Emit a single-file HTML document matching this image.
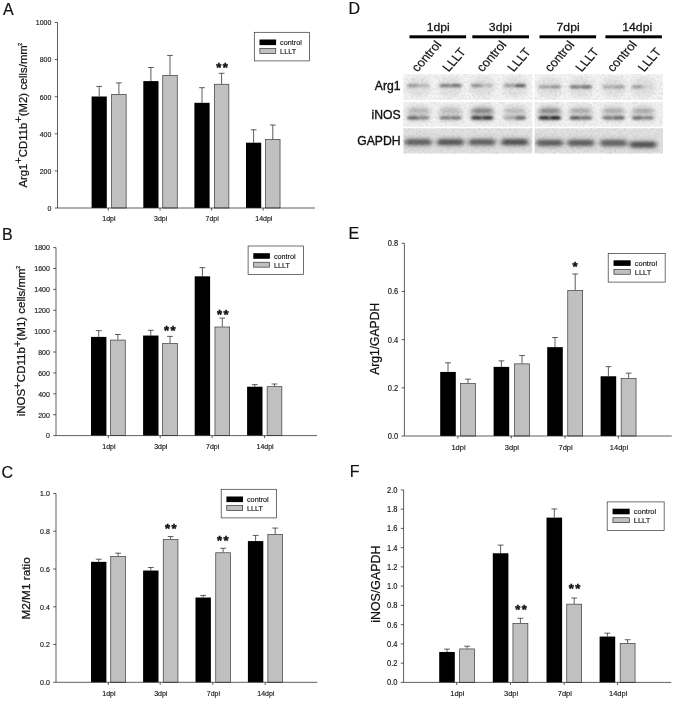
<!DOCTYPE html>
<html lang="en">
<head>
<meta charset="utf-8">
<title>Figure</title>
<style>
html,body{margin:0;padding:0;background:#fff;}
body{width:675px;height:701px;overflow:hidden;}
text.s{stroke:#222;stroke-width:0.14px;}
svg{display:block;font-family:'Liberation Sans', Arial, Helvetica, sans-serif;fill:#111;}
</style>
</head>
<body>
<svg width="675" height="701" viewBox="0 0 675 701">
<rect width="675" height="701" fill="#fff"/>
<g id="panelA">
<path d="M99.2 96.5V86.4M96.3 86.4H102.1" stroke="#2a2a2a" stroke-width="0.75" fill="none"/>
<rect x="91.6" y="96.5" width="15.2" height="111.5" fill="#000"/>
<path d="M118.9 94V82.9M116 82.9H121.8" stroke="#2a2a2a" stroke-width="0.75" fill="none"/>
<rect x="111.65" y="94.35" width="14.5" height="113.65" fill="#c0c0c0" stroke="#3a3a3a" stroke-width="0.7"/>
<path d="M150.9 81.1V67.5M148 67.5H153.8" stroke="#2a2a2a" stroke-width="0.75" fill="none"/>
<rect x="143.3" y="81.1" width="15.2" height="126.9" fill="#000"/>
<path d="M170 75V55.4M167.1 55.4H172.9" stroke="#2a2a2a" stroke-width="0.75" fill="none"/>
<rect x="162.75" y="75.35" width="14.5" height="132.65" fill="#c0c0c0" stroke="#3a3a3a" stroke-width="0.7"/>
<path d="M202 102.8V87.7M199.1 87.7H204.9" stroke="#2a2a2a" stroke-width="0.75" fill="none"/>
<rect x="194.4" y="102.8" width="15.2" height="105.2" fill="#000"/>
<path d="M221.6 83.9V73.3M218.7 73.3H224.5" stroke="#2a2a2a" stroke-width="0.75" fill="none"/>
<rect x="214.35" y="84.25" width="14.5" height="123.75" fill="#c0c0c0" stroke="#3a3a3a" stroke-width="0.7"/>
<path d="M253.6 142.7V129.8M250.7 129.8H256.5" stroke="#2a2a2a" stroke-width="0.75" fill="none"/>
<rect x="246" y="142.7" width="15.2" height="65.3" fill="#000"/>
<path d="M272.8 139.1V125M269.9 125H275.7" stroke="#2a2a2a" stroke-width="0.75" fill="none"/>
<rect x="265.55" y="139.45" width="14.5" height="68.55" fill="#c0c0c0" stroke="#3a3a3a" stroke-width="0.7"/>
<path d="M57.5 22.5V208H315" stroke="#2a2a2a" stroke-width="0.75" fill="none"/>
<path d="M54.7 208H57.5" stroke="#2a2a2a" stroke-width="0.75"/>
<text transform="translate(51.3 208.1) scale(1 1.12)" y="2.44" text-anchor="end" class="s" font-size="7.0">0</text>
<path d="M54.7 170.9H57.5" stroke="#2a2a2a" stroke-width="0.75"/>
<text transform="translate(51.3 171) scale(1 1.12)" y="2.44" text-anchor="end" class="s" font-size="7.0">200</text>
<path d="M54.7 133.8H57.5" stroke="#2a2a2a" stroke-width="0.75"/>
<text transform="translate(51.3 133.9) scale(1 1.12)" y="2.44" text-anchor="end" class="s" font-size="7.0">400</text>
<path d="M54.7 96.7H57.5" stroke="#2a2a2a" stroke-width="0.75"/>
<text transform="translate(51.3 96.8) scale(1 1.12)" y="2.44" text-anchor="end" class="s" font-size="7.0">600</text>
<path d="M54.7 59.6H57.5" stroke="#2a2a2a" stroke-width="0.75"/>
<text transform="translate(51.3 59.7) scale(1 1.12)" y="2.44" text-anchor="end" class="s" font-size="7.0">800</text>
<path d="M54.7 22.5H57.5" stroke="#2a2a2a" stroke-width="0.75"/>
<text transform="translate(51.3 22.6) scale(1 1.12)" y="2.44" text-anchor="end" class="s" font-size="7.0">1000</text>
<path d="M108.3 208V210.6" stroke="#2a2a2a" stroke-width="0.75"/>
<text transform="translate(108.9 221.1) scale(1 1.12)" text-anchor="middle" class="s" font-size="7.0">1dpi</text>
<path d="M160 208V210.6" stroke="#2a2a2a" stroke-width="0.75"/>
<text transform="translate(160.6 221.1) scale(1 1.12)" text-anchor="middle" class="s" font-size="7.0">3dpi</text>
<path d="M211.6 208V210.6" stroke="#2a2a2a" stroke-width="0.75"/>
<text transform="translate(212.2 221.1) scale(1 1.12)" text-anchor="middle" class="s" font-size="7.0">7dpi</text>
<path d="M263.2 208V210.6" stroke="#2a2a2a" stroke-width="0.75"/>
<text transform="translate(263.8 221.1) scale(1 1.12)" text-anchor="middle" class="s" font-size="7.0">14dpi</text>
<rect x="254.3" y="32.3" width="55.3" height="28.6" fill="#fff" stroke="#333" stroke-width="0.7"/>
<rect x="259.5" y="39.5" width="16.6" height="5.6" fill="#000"/>
<rect x="259.85" y="48.55" width="15.9" height="4.9" fill="#c0c0c0" stroke="#333" stroke-width="0.7"/>
<text transform="translate(280.1 45.2) scale(1 1.12)" class="s" font-size="7.25">control</text>
<text transform="translate(280.1 53.9) scale(1 1.12)" class="s" font-size="7.25">LLLT</text>
<text x="216.22" y="72.23" font-size="13.0" font-weight="bold" stroke="#111" stroke-width="0.45" letter-spacing="1.44">**</text>
<text transform="translate(26.8 115.3) rotate(-90)" text-anchor="middle" font-size="11.3" stroke="#111" stroke-width="0.22">Arg1<tspan dy="-4.4">+</tspan><tspan dy="4.4">CD11b</tspan><tspan dy="-4.4">+</tspan><tspan dy="4.4">(M2) cells/mm</tspan><tspan dy="-5.2" dx="-0.5" font-size="5">2</tspan></text>
<text x="3" y="15" font-size="16" stroke="#111" stroke-width="0.2">A</text>
</g>
<g id="panelB">
<path d="M98.7 336.9V330.63M95.8 330.63H101.6" stroke="#2a2a2a" stroke-width="0.75" fill="none"/>
<rect x="91" y="336.9" width="15.4" height="98.7" fill="#000"/>
<path d="M117.9 339.72V334.5M115 334.5H120.8" stroke="#2a2a2a" stroke-width="0.75" fill="none"/>
<rect x="110.55" y="340.07" width="14.7" height="95.53" fill="#c0c0c0" stroke="#3a3a3a" stroke-width="0.7"/>
<path d="M150.8 335.54V330.32M147.9 330.32H153.7" stroke="#2a2a2a" stroke-width="0.75" fill="none"/>
<rect x="143.1" y="335.54" width="15.4" height="100.06" fill="#000"/>
<path d="M170 343.17V336.38M167.1 336.38H172.9" stroke="#2a2a2a" stroke-width="0.75" fill="none"/>
<rect x="162.65" y="343.52" width="14.7" height="92.08" fill="#c0c0c0" stroke="#3a3a3a" stroke-width="0.7"/>
<path d="M202.4 276.32V267.65M199.5 267.65H205.3" stroke="#2a2a2a" stroke-width="0.75" fill="none"/>
<rect x="194.7" y="276.32" width="15.4" height="159.28" fill="#000"/>
<path d="M222.3 326.66V318.1M219.4 318.1H225.2" stroke="#2a2a2a" stroke-width="0.75" fill="none"/>
<rect x="214.95" y="327.01" width="14.7" height="108.59" fill="#c0c0c0" stroke="#3a3a3a" stroke-width="0.7"/>
<path d="M254.8 386.72V384.63M251.9 384.63H257.7" stroke="#2a2a2a" stroke-width="0.75" fill="none"/>
<rect x="247.1" y="386.72" width="15.4" height="48.88" fill="#000"/>
<path d="M274.5 386.3V384M271.6 384H277.4" stroke="#2a2a2a" stroke-width="0.75" fill="none"/>
<rect x="267.15" y="386.65" width="14.7" height="48.95" fill="#c0c0c0" stroke="#3a3a3a" stroke-width="0.7"/>
<path d="M56 247.6V435.6H317" stroke="#2a2a2a" stroke-width="0.75" fill="none"/>
<path d="M53.2 435.6H56" stroke="#2a2a2a" stroke-width="0.75"/>
<text transform="translate(49.8 435.7) scale(1 1.12)" y="2.44" text-anchor="end" class="s" font-size="7.0">0</text>
<path d="M53.2 414.71H56" stroke="#2a2a2a" stroke-width="0.75"/>
<text transform="translate(49.8 414.81) scale(1 1.12)" y="2.44" text-anchor="end" class="s" font-size="7.0">200</text>
<path d="M53.2 393.82H56" stroke="#2a2a2a" stroke-width="0.75"/>
<text transform="translate(49.8 393.92) scale(1 1.12)" y="2.44" text-anchor="end" class="s" font-size="7.0">400</text>
<path d="M53.2 372.93H56" stroke="#2a2a2a" stroke-width="0.75"/>
<text transform="translate(49.8 373.03) scale(1 1.12)" y="2.44" text-anchor="end" class="s" font-size="7.0">600</text>
<path d="M53.2 352.04H56" stroke="#2a2a2a" stroke-width="0.75"/>
<text transform="translate(49.8 352.14) scale(1 1.12)" y="2.44" text-anchor="end" class="s" font-size="7.0">800</text>
<path d="M53.2 331.16H56" stroke="#2a2a2a" stroke-width="0.75"/>
<text transform="translate(49.8 331.26) scale(1 1.12)" y="2.44" text-anchor="end" class="s" font-size="7.0">1000</text>
<path d="M53.2 310.27H56" stroke="#2a2a2a" stroke-width="0.75"/>
<text transform="translate(49.8 310.37) scale(1 1.12)" y="2.44" text-anchor="end" class="s" font-size="7.0">1200</text>
<path d="M53.2 289.38H56" stroke="#2a2a2a" stroke-width="0.75"/>
<text transform="translate(49.8 289.48) scale(1 1.12)" y="2.44" text-anchor="end" class="s" font-size="7.0">1400</text>
<path d="M53.2 268.49H56" stroke="#2a2a2a" stroke-width="0.75"/>
<text transform="translate(49.8 268.59) scale(1 1.12)" y="2.44" text-anchor="end" class="s" font-size="7.0">1600</text>
<path d="M53.2 247.6H56" stroke="#2a2a2a" stroke-width="0.75"/>
<text transform="translate(49.8 247.7) scale(1 1.12)" y="2.44" text-anchor="end" class="s" font-size="7.0">1800</text>
<path d="M108.3 435.6V438.2" stroke="#2a2a2a" stroke-width="0.75"/>
<text transform="translate(108.9 449.2) scale(1 1.12)" text-anchor="middle" class="s" font-size="7.0">1dpi</text>
<path d="M160.2 435.6V438.2" stroke="#2a2a2a" stroke-width="0.75"/>
<text transform="translate(160.8 449.2) scale(1 1.12)" text-anchor="middle" class="s" font-size="7.0">3dpi</text>
<path d="M212.1 435.6V438.2" stroke="#2a2a2a" stroke-width="0.75"/>
<text transform="translate(212.7 449.2) scale(1 1.12)" text-anchor="middle" class="s" font-size="7.0">7dpi</text>
<path d="M264.5 435.6V438.2" stroke="#2a2a2a" stroke-width="0.75"/>
<text transform="translate(265.1 449.2) scale(1 1.12)" text-anchor="middle" class="s" font-size="7.0">14dpi</text>
<rect x="248.1" y="246" width="55.3" height="28.6" fill="#fff" stroke="#333" stroke-width="0.7"/>
<rect x="253.3" y="253.2" width="16.6" height="5.6" fill="#000"/>
<rect x="253.65" y="262.25" width="15.9" height="4.9" fill="#c0c0c0" stroke="#333" stroke-width="0.7"/>
<text transform="translate(273.9 258.9) scale(1 1.12)" class="s" font-size="7.25">control</text>
<text transform="translate(273.9 267.6) scale(1 1.12)" class="s" font-size="7.25">LLLT</text>
<text x="164.02" y="334.93" font-size="13.0" font-weight="bold" stroke="#111" stroke-width="0.45" letter-spacing="1.44">**</text>
<text x="217.12" y="318.63" font-size="13.0" font-weight="bold" stroke="#111" stroke-width="0.45" letter-spacing="1.44">**</text>
<text transform="translate(25.1 341.2) rotate(-90)" text-anchor="middle" font-size="11.5" stroke="#111" stroke-width="0.22">iNOS<tspan dy="-4.4">+</tspan><tspan dy="4.4">CD11b</tspan><tspan dy="-4.4">+</tspan><tspan dy="4.4">(M1) cells/mm</tspan><tspan dy="-5.2" dx="-0.5" font-size="5">2</tspan></text>
<text x="2" y="240.1" font-size="16" stroke="#111" stroke-width="0.2">B</text>
</g>
<g id="panelC">
<path d="M98.7 561.85V559.2M95.8 559.2H101.6" stroke="#2a2a2a" stroke-width="0.75" fill="none"/>
<rect x="91" y="561.85" width="15.4" height="120.45" fill="#000"/>
<path d="M118.1 556.18V553.16M115.2 553.16H121" stroke="#2a2a2a" stroke-width="0.75" fill="none"/>
<rect x="110.75" y="556.53" width="14.7" height="125.77" fill="#c0c0c0" stroke="#3a3a3a" stroke-width="0.7"/>
<path d="M150.8 570.53V567.51M147.9 567.51H153.7" stroke="#2a2a2a" stroke-width="0.75" fill="none"/>
<rect x="143.1" y="570.53" width="15.4" height="111.77" fill="#000"/>
<path d="M170.6 539.19V536.55M167.7 536.55H173.5" stroke="#2a2a2a" stroke-width="0.75" fill="none"/>
<rect x="163.25" y="539.54" width="14.7" height="142.76" fill="#c0c0c0" stroke="#3a3a3a" stroke-width="0.7"/>
<path d="M203.2 597.53V595.45M200.3 595.45H206.1" stroke="#2a2a2a" stroke-width="0.75" fill="none"/>
<rect x="195.5" y="597.53" width="15.4" height="84.77" fill="#000"/>
<path d="M223.1 552.41V548.25M220.2 548.25H226" stroke="#2a2a2a" stroke-width="0.75" fill="none"/>
<rect x="215.75" y="552.76" width="14.7" height="129.54" fill="#c0c0c0" stroke="#3a3a3a" stroke-width="0.7"/>
<path d="M255.6 541.08V535.41M252.7 535.41H258.5" stroke="#2a2a2a" stroke-width="0.75" fill="none"/>
<rect x="247.9" y="541.08" width="15.4" height="141.22" fill="#000"/>
<path d="M275.2 534.09V528.05M272.3 528.05H278.1" stroke="#2a2a2a" stroke-width="0.75" fill="none"/>
<rect x="267.85" y="534.44" width="14.7" height="147.86" fill="#c0c0c0" stroke="#3a3a3a" stroke-width="0.7"/>
<path d="M56 493.5V682.3H317.4" stroke="#2a2a2a" stroke-width="0.75" fill="none"/>
<path d="M53.2 682.3H56" stroke="#2a2a2a" stroke-width="0.75"/>
<text transform="translate(49.8 682.4) scale(1 1.12)" y="2.44" text-anchor="end" class="s" font-size="7.0">0.0</text>
<path d="M53.2 644.54H56" stroke="#2a2a2a" stroke-width="0.75"/>
<text transform="translate(49.8 644.64) scale(1 1.12)" y="2.44" text-anchor="end" class="s" font-size="7.0">0.2</text>
<path d="M53.2 606.78H56" stroke="#2a2a2a" stroke-width="0.75"/>
<text transform="translate(49.8 606.88) scale(1 1.12)" y="2.44" text-anchor="end" class="s" font-size="7.0">0.4</text>
<path d="M53.2 569.02H56" stroke="#2a2a2a" stroke-width="0.75"/>
<text transform="translate(49.8 569.12) scale(1 1.12)" y="2.44" text-anchor="end" class="s" font-size="7.0">0.6</text>
<path d="M53.2 531.26H56" stroke="#2a2a2a" stroke-width="0.75"/>
<text transform="translate(49.8 531.36) scale(1 1.12)" y="2.44" text-anchor="end" class="s" font-size="7.0">0.8</text>
<path d="M53.2 493.5H56" stroke="#2a2a2a" stroke-width="0.75"/>
<text transform="translate(49.8 493.6) scale(1 1.12)" y="2.44" text-anchor="end" class="s" font-size="7.0">1.0</text>
<path d="M108.3 682.3V684.9" stroke="#2a2a2a" stroke-width="0.75"/>
<text transform="translate(108.9 695.9) scale(1 1.12)" text-anchor="middle" class="s" font-size="7.0">1dpi</text>
<path d="M160.2 682.3V684.9" stroke="#2a2a2a" stroke-width="0.75"/>
<text transform="translate(160.8 695.9) scale(1 1.12)" text-anchor="middle" class="s" font-size="7.0">3dpi</text>
<path d="M212.8 682.3V684.9" stroke="#2a2a2a" stroke-width="0.75"/>
<text transform="translate(213.4 695.9) scale(1 1.12)" text-anchor="middle" class="s" font-size="7.0">7dpi</text>
<path d="M265.2 682.3V684.9" stroke="#2a2a2a" stroke-width="0.75"/>
<text transform="translate(265.8 695.9) scale(1 1.12)" text-anchor="middle" class="s" font-size="7.0">14dpi</text>
<rect x="221.2" y="489.3" width="55.3" height="28.6" fill="#fff" stroke="#333" stroke-width="0.7"/>
<rect x="226.4" y="496.5" width="16.6" height="5.6" fill="#000"/>
<rect x="226.75" y="505.55" width="15.9" height="4.9" fill="#c0c0c0" stroke="#333" stroke-width="0.7"/>
<text transform="translate(247 502.2) scale(1 1.12)" class="s" font-size="7.25">control</text>
<text transform="translate(247 510.9) scale(1 1.12)" class="s" font-size="7.25">LLLT</text>
<text x="165.02" y="532.83" font-size="13.0" font-weight="bold" stroke="#111" stroke-width="0.45" letter-spacing="1.44">**</text>
<text x="217.12" y="545.43" font-size="13.0" font-weight="bold" stroke="#111" stroke-width="0.45" letter-spacing="1.44">**</text>
<text transform="translate(30.3 588.45) rotate(-90)" text-anchor="middle" font-size="11.8" stroke="#111" stroke-width="0.22">M2/M1 ratio</text>
<text x="1.4" y="477.5" font-size="16" stroke="#111" stroke-width="0.2">C</text>
</g>
<g id="panelE">
<path d="M448 371.93V362.79M445.1 362.79H450.9" stroke="#2a2a2a" stroke-width="0.75" fill="none"/>
<rect x="440.2" y="371.93" width="15.6" height="64.07" fill="#000"/>
<path d="M468 383.24V379.15M465.1 379.15H470.9" stroke="#2a2a2a" stroke-width="0.75" fill="none"/>
<rect x="460.55" y="383.59" width="14.9" height="52.41" fill="#c0c0c0" stroke="#3a3a3a" stroke-width="0.7"/>
<path d="M501.4 366.88V360.87M498.5 360.87H504.3" stroke="#2a2a2a" stroke-width="0.75" fill="none"/>
<rect x="493.6" y="366.88" width="15.6" height="69.12" fill="#000"/>
<path d="M522 363.51V355.57M519.1 355.57H524.9" stroke="#2a2a2a" stroke-width="0.75" fill="none"/>
<rect x="514.55" y="363.86" width="14.9" height="72.14" fill="#c0c0c0" stroke="#3a3a3a" stroke-width="0.7"/>
<path d="M555 347.15V337.52M552.1 337.52H557.9" stroke="#2a2a2a" stroke-width="0.75" fill="none"/>
<rect x="547.2" y="347.15" width="15.6" height="88.85" fill="#000"/>
<path d="M575.2 290.12V274M572.3 274H578.1" stroke="#2a2a2a" stroke-width="0.75" fill="none"/>
<rect x="567.75" y="290.47" width="14.9" height="145.53" fill="#c0c0c0" stroke="#3a3a3a" stroke-width="0.7"/>
<path d="M608.4 376.27V366.64M605.5 366.64H611.3" stroke="#2a2a2a" stroke-width="0.75" fill="none"/>
<rect x="600.6" y="376.27" width="15.6" height="59.73" fill="#000"/>
<path d="M628.6 378.19V373.14M625.7 373.14H631.5" stroke="#2a2a2a" stroke-width="0.75" fill="none"/>
<rect x="621.15" y="378.54" width="14.9" height="57.46" fill="#c0c0c0" stroke="#3a3a3a" stroke-width="0.7"/>
<path d="M404.4 243.3V436H671.8" stroke="#2a2a2a" stroke-width="0.75" fill="none"/>
<path d="M401.6 436H404.4" stroke="#2a2a2a" stroke-width="0.75"/>
<text transform="translate(398.2 436.1) scale(1 1.1)" y="2.62" text-anchor="end" class="s" font-size="7.5">0.0</text>
<path d="M401.6 387.82H404.4" stroke="#2a2a2a" stroke-width="0.75"/>
<text transform="translate(398.2 387.93) scale(1 1.1)" y="2.62" text-anchor="end" class="s" font-size="7.5">0.2</text>
<path d="M401.6 339.65H404.4" stroke="#2a2a2a" stroke-width="0.75"/>
<text transform="translate(398.2 339.75) scale(1 1.1)" y="2.62" text-anchor="end" class="s" font-size="7.5">0.4</text>
<path d="M401.6 291.48H404.4" stroke="#2a2a2a" stroke-width="0.75"/>
<text transform="translate(398.2 291.58) scale(1 1.1)" y="2.62" text-anchor="end" class="s" font-size="7.5">0.6</text>
<path d="M401.6 243.3H404.4" stroke="#2a2a2a" stroke-width="0.75"/>
<text transform="translate(398.2 243.4) scale(1 1.1)" y="2.62" text-anchor="end" class="s" font-size="7.5">0.8</text>
<path d="M457.9 436V438.6" stroke="#2a2a2a" stroke-width="0.75"/>
<text transform="translate(458.5 449.6) scale(1 1.0)" text-anchor="middle" class="s" font-size="7.5">1dpi</text>
<path d="M511.3 436V438.6" stroke="#2a2a2a" stroke-width="0.75"/>
<text transform="translate(511.9 449.6) scale(1 1.0)" text-anchor="middle" class="s" font-size="7.5">3dpi</text>
<path d="M565 436V438.6" stroke="#2a2a2a" stroke-width="0.75"/>
<text transform="translate(565.6 449.6) scale(1 1.0)" text-anchor="middle" class="s" font-size="7.5">7dpi</text>
<path d="M618.4 436V438.6" stroke="#2a2a2a" stroke-width="0.75"/>
<text transform="translate(619 449.6) scale(1 1.0)" text-anchor="middle" class="s" font-size="7.5">14dpi</text>
<rect x="608.2" y="253.5" width="56.96" height="28.6" fill="#fff" stroke="#333" stroke-width="0.7"/>
<rect x="613.56" y="260.3" width="17.1" height="5.6" fill="#000"/>
<rect x="613.91" y="269.35" width="16.4" height="4.9" fill="#c0c0c0" stroke="#333" stroke-width="0.7"/>
<text transform="translate(634.77 266) scale(1 1.0)" class="s" font-size="7.47">control</text>
<text transform="translate(634.77 274.7) scale(1 1.0)" class="s" font-size="7.47">LLLT</text>
<text x="572.47" y="271.03" font-size="13" font-weight="bold" stroke="#111" stroke-width="0.45" letter-spacing="1.44">*</text>
<text transform="translate(379.2 338.85) rotate(-90)" text-anchor="middle" font-size="12.1" stroke="#111" stroke-width="0.22">Arg1/GAPDH</text>
<text x="348.5" y="239" font-size="16" stroke="#111" stroke-width="0.2">E</text>
</g>
<g id="panelF">
<path d="M447 651.97V649.08M444.1 649.08H449.9" stroke="#2a2a2a" stroke-width="0.75" fill="none"/>
<rect x="439.2" y="651.97" width="15.6" height="30.43" fill="#000"/>
<path d="M467.1 648.59V646.19M464.2 646.19H470" stroke="#2a2a2a" stroke-width="0.75" fill="none"/>
<rect x="459.65" y="648.94" width="14.9" height="33.46" fill="#c0c0c0" stroke="#3a3a3a" stroke-width="0.7"/>
<path d="M500.6 553.26V545.07M497.7 545.07H503.5" stroke="#2a2a2a" stroke-width="0.75" fill="none"/>
<rect x="492.8" y="553.26" width="15.6" height="129.14" fill="#000"/>
<path d="M520.4 623.08V618.26M517.5 618.26H523.3" stroke="#2a2a2a" stroke-width="0.75" fill="none"/>
<rect x="512.95" y="623.43" width="14.9" height="58.97" fill="#c0c0c0" stroke="#3a3a3a" stroke-width="0.7"/>
<path d="M554.3 517.63V508.96M551.4 508.96H557.2" stroke="#2a2a2a" stroke-width="0.75" fill="none"/>
<rect x="546.5" y="517.63" width="15.6" height="164.77" fill="#000"/>
<path d="M574.2 603.82V598.04M571.3 598.04H577.1" stroke="#2a2a2a" stroke-width="0.75" fill="none"/>
<rect x="566.75" y="604.17" width="14.9" height="78.23" fill="#c0c0c0" stroke="#3a3a3a" stroke-width="0.7"/>
<path d="M607.4 636.56V633.19M604.5 633.19H610.3" stroke="#2a2a2a" stroke-width="0.75" fill="none"/>
<rect x="599.6" y="636.56" width="15.6" height="45.84" fill="#000"/>
<path d="M627.6 643.01V639.74M624.7 639.74H630.5" stroke="#2a2a2a" stroke-width="0.75" fill="none"/>
<rect x="620.15" y="643.36" width="14.9" height="39.04" fill="#c0c0c0" stroke="#3a3a3a" stroke-width="0.7"/>
<path d="M403.6 489.9V682.4H671.2" stroke="#2a2a2a" stroke-width="0.75" fill="none"/>
<path d="M400.8 682.4H403.6" stroke="#2a2a2a" stroke-width="0.75"/>
<text transform="translate(397.4 682.5) scale(1 1.1)" y="2.62" text-anchor="end" class="s" font-size="7.5">0.0</text>
<path d="M400.8 663.15H403.6" stroke="#2a2a2a" stroke-width="0.75"/>
<text transform="translate(397.4 663.25) scale(1 1.1)" y="2.62" text-anchor="end" class="s" font-size="7.5">0.2</text>
<path d="M400.8 643.9H403.6" stroke="#2a2a2a" stroke-width="0.75"/>
<text transform="translate(397.4 644) scale(1 1.1)" y="2.62" text-anchor="end" class="s" font-size="7.5">0.4</text>
<path d="M400.8 624.65H403.6" stroke="#2a2a2a" stroke-width="0.75"/>
<text transform="translate(397.4 624.75) scale(1 1.1)" y="2.62" text-anchor="end" class="s" font-size="7.5">0.6</text>
<path d="M400.8 605.4H403.6" stroke="#2a2a2a" stroke-width="0.75"/>
<text transform="translate(397.4 605.5) scale(1 1.1)" y="2.62" text-anchor="end" class="s" font-size="7.5">0.8</text>
<path d="M400.8 586.15H403.6" stroke="#2a2a2a" stroke-width="0.75"/>
<text transform="translate(397.4 586.25) scale(1 1.1)" y="2.62" text-anchor="end" class="s" font-size="7.5">1.0</text>
<path d="M400.8 566.9H403.6" stroke="#2a2a2a" stroke-width="0.75"/>
<text transform="translate(397.4 567) scale(1 1.1)" y="2.62" text-anchor="end" class="s" font-size="7.5">1.2</text>
<path d="M400.8 547.65H403.6" stroke="#2a2a2a" stroke-width="0.75"/>
<text transform="translate(397.4 547.75) scale(1 1.1)" y="2.62" text-anchor="end" class="s" font-size="7.5">1.4</text>
<path d="M400.8 528.4H403.6" stroke="#2a2a2a" stroke-width="0.75"/>
<text transform="translate(397.4 528.5) scale(1 1.1)" y="2.62" text-anchor="end" class="s" font-size="7.5">1.6</text>
<path d="M400.8 509.15H403.6" stroke="#2a2a2a" stroke-width="0.75"/>
<text transform="translate(397.4 509.25) scale(1 1.1)" y="2.62" text-anchor="end" class="s" font-size="7.5">1.8</text>
<path d="M400.8 489.9H403.6" stroke="#2a2a2a" stroke-width="0.75"/>
<text transform="translate(397.4 490) scale(1 1.1)" y="2.62" text-anchor="end" class="s" font-size="7.5">2.0</text>
<path d="M456.7 682.4V685" stroke="#2a2a2a" stroke-width="0.75"/>
<text transform="translate(457.3 696) scale(1 1.0)" text-anchor="middle" class="s" font-size="7.5">1dpi</text>
<path d="M510.5 682.4V685" stroke="#2a2a2a" stroke-width="0.75"/>
<text transform="translate(511.1 696) scale(1 1.0)" text-anchor="middle" class="s" font-size="7.5">3dpi</text>
<path d="M564.2 682.4V685" stroke="#2a2a2a" stroke-width="0.75"/>
<text transform="translate(564.8 696) scale(1 1.0)" text-anchor="middle" class="s" font-size="7.5">7dpi</text>
<path d="M617.6 682.4V685" stroke="#2a2a2a" stroke-width="0.75"/>
<text transform="translate(618.2 696) scale(1 1.0)" text-anchor="middle" class="s" font-size="7.5">14dpi</text>
<rect x="607.2" y="501.9" width="56.96" height="28.6" fill="#fff" stroke="#333" stroke-width="0.7"/>
<rect x="612.56" y="508.7" width="17.1" height="5.6" fill="#000"/>
<rect x="612.91" y="517.75" width="16.4" height="4.9" fill="#c0c0c0" stroke="#333" stroke-width="0.7"/>
<text transform="translate(633.77 514.4) scale(1 1.0)" class="s" font-size="7.47">control</text>
<text transform="translate(633.77 523.1) scale(1 1.0)" class="s" font-size="7.47">LLLT</text>
<text x="515.32" y="613.83" font-size="13.0" font-weight="bold" stroke="#111" stroke-width="0.45" letter-spacing="1.44">**</text>
<text x="568.72" y="593.33" font-size="13.0" font-weight="bold" stroke="#111" stroke-width="0.45" letter-spacing="1.44">**</text>
<text transform="translate(380.1 584.2) rotate(-90)" text-anchor="middle" font-size="12.4" stroke="#111" stroke-width="0.22">iNOS/GAPDH</text>
<text x="349.7" y="476.7" font-size="16" stroke="#111" stroke-width="0.2">F</text>
</g>
<g id="panelD">
<defs>
<filter id="b1" x="-30%" y="-200%" width="160%" height="500%"><feGaussianBlur stdDeviation="1.7 1.0"/></filter>
<filter id="b2" x="-30%" y="-100%" width="160%" height="300%"><feGaussianBlur stdDeviation="2.6 2.4"/></filter>
<filter id="b3" x="-30%" y="-200%" width="160%" height="500%"><feGaussianBlur stdDeviation="2.0 1.4"/></filter>
<filter id="nz" x="0" y="0" width="100%" height="100%"><feTurbulence type="fractalNoise" baseFrequency="0.42" numOctaves="2" seed="7" result="t"/><feColorMatrix in="t" type="matrix" values="0 0 0 0 0  0 0 0 0 0  0 0 0 0 0  1.2 0 0 0 -0.5"/></filter>
<clipPath id="cpL"><rect x="403.4" y="74" width="128.8" height="79.6"/></clipPath>
<clipPath id="cpR"><rect x="534.6" y="74" width="128.4" height="79.6"/></clipPath>
</defs>
<text x="348.5" y="14" font-size="16" stroke="#111" stroke-width="0.2">D</text>
<text transform="translate(438.3 31) scale(1.14 1)" text-anchor="middle" font-size="10.7" stroke="#111" stroke-width="0.25">1dpi</text>
<rect x="409.5" y="35.3" width="56.6" height="3" fill="#000"/>
<text transform="translate(500.4 31) scale(1.14 1)" text-anchor="middle" font-size="10.7" stroke="#111" stroke-width="0.25">3dpi</text>
<rect x="472.3" y="35.3" width="56.7" height="3" fill="#000"/>
<text transform="translate(568.1 31) scale(1.14 1)" text-anchor="middle" font-size="10.7" stroke="#111" stroke-width="0.25">7dpi</text>
<rect x="539.5" y="35.3" width="56.6" height="3" fill="#000"/>
<text transform="translate(637.2 31) scale(1.14 1)" text-anchor="middle" font-size="10.7" stroke="#111" stroke-width="0.25">14dpi</text>
<rect x="605.4" y="35.3" width="56.5" height="3" fill="#000"/>
<text transform="translate(417.6 72.6) scale(1.09 1) rotate(-51)" font-size="11.9" stroke="#111" stroke-width="0.2">control</text>
<text transform="translate(448.6 72.5) scale(1.09 1) rotate(-51)" font-size="11.9" stroke="#111" stroke-width="0.2">LLLT</text>
<text transform="translate(482.6 72.6) scale(1.09 1) rotate(-51)" font-size="11.9" stroke="#111" stroke-width="0.2">control</text>
<text transform="translate(513.6 72.5) scale(1.09 1) rotate(-51)" font-size="11.9" stroke="#111" stroke-width="0.2">LLLT</text>
<text transform="translate(550.6 72.6) scale(1.09 1) rotate(-51)" font-size="11.9" stroke="#111" stroke-width="0.2">control</text>
<text transform="translate(581.6 72.5) scale(1.09 1) rotate(-51)" font-size="11.9" stroke="#111" stroke-width="0.2">LLLT</text>
<text transform="translate(613 72.6) scale(1.09 1) rotate(-51)" font-size="11.9" stroke="#111" stroke-width="0.2">control</text>
<text transform="translate(644 72.5) scale(1.09 1) rotate(-51)" font-size="11.9" stroke="#111" stroke-width="0.2">LLLT</text>
<text x="400.6" y="89.7" text-anchor="end" font-size="12.2" stroke="#111" stroke-width="0.35">Arg1</text>
<text x="400.6" y="118.7" text-anchor="end" font-size="12.2" stroke="#111" stroke-width="0.35">iNOS</text>
<text x="400.6" y="144.9" text-anchor="end" font-size="12.2" stroke="#111" stroke-width="0.35">GAPDH</text>
<rect x="403.4" y="74.2" width="128.8" height="26" fill="#f4f4f4"/>
<rect x="534.6" y="74.2" width="128.4" height="26" fill="#f4f4f4"/>
<rect x="403.4" y="101.8" width="128.8" height="25" fill="#f2f2f2"/>
<rect x="534.6" y="101.8" width="128.4" height="25" fill="#f2f2f2"/>
<rect x="403.4" y="128.2" width="128.8" height="25.2" fill="#e2e2e2"/>
<rect x="534.6" y="128.2" width="128.4" height="25.2" fill="#e2e2e2"/>
<g clip-path="url(#cpL)">
<rect x="405.8" y="77" width="25" height="20" rx="10" fill="#000" opacity="0.07" filter="url(#b2)"/>
<rect x="407.3" y="84.1" width="11" height="3.2" rx="1.6" fill="#000" opacity="0.312" filter="url(#b1)"/>
<rect x="418.3" y="84.1" width="11" height="3.2" rx="1.6" fill="#000" opacity="0.18" filter="url(#b1)"/>
<rect x="406.3" y="106" width="24" height="15" rx="7.5" fill="#000" opacity="0.14" filter="url(#b2)"/>
<rect x="408.3" y="109.1" width="20" height="3.4" rx="1.7" fill="#000" opacity="0.128" filter="url(#b3)"/>
<rect x="407.3" y="116.2" width="11" height="3.4" rx="1.7" fill="#000" opacity="0.55" filter="url(#b1)"/>
<rect x="418.3" y="116.2" width="11" height="3.4" rx="1.7" fill="#000" opacity="0.38" filter="url(#b1)"/>
<rect x="405.3" y="139.3" width="26" height="5.8" rx="2.9" fill="#000" opacity="0.475" filter="url(#b3)"/>
<rect x="403.3" y="137.2" width="30" height="10" rx="5" fill="#000" opacity="0.16" filter="url(#b2)"/>
<rect x="438" y="77" width="25" height="20" rx="10" fill="#000" opacity="0.07" filter="url(#b2)"/>
<rect x="439.5" y="84.1" width="11" height="3.2" rx="1.6" fill="#000" opacity="0.451" filter="url(#b1)"/>
<rect x="450.5" y="84.1" width="11" height="3.2" rx="1.6" fill="#000" opacity="0.492" filter="url(#b1)"/>
<rect x="438.5" y="106" width="24" height="15" rx="7.5" fill="#000" opacity="0.12" filter="url(#b2)"/>
<rect x="440.5" y="109.1" width="20" height="3.4" rx="1.7" fill="#000" opacity="0.112" filter="url(#b3)"/>
<rect x="439.5" y="116.2" width="11" height="3.4" rx="1.7" fill="#000" opacity="0.42" filter="url(#b1)"/>
<rect x="450.5" y="116.2" width="11" height="3.4" rx="1.7" fill="#000" opacity="0.45" filter="url(#b1)"/>
<rect x="437.5" y="139.3" width="26" height="5.8" rx="2.9" fill="#000" opacity="0.528" filter="url(#b3)"/>
<rect x="435.5" y="137.2" width="30" height="10" rx="5" fill="#000" opacity="0.16" filter="url(#b2)"/>
<rect x="469.6" y="77" width="25" height="20" rx="10" fill="#000" opacity="0.07" filter="url(#b2)"/>
<rect x="471.1" y="84.1" width="11" height="3.2" rx="1.6" fill="#000" opacity="0.369" filter="url(#b1)"/>
<rect x="482.1" y="84.1" width="11" height="3.2" rx="1.6" fill="#000" opacity="0.164" filter="url(#b1)"/>
<rect x="470.1" y="106" width="24" height="15" rx="7.5" fill="#000" opacity="0.22" filter="url(#b2)"/>
<rect x="472.1" y="109.1" width="20" height="3.4" rx="1.7" fill="#000" opacity="0.336" filter="url(#b3)"/>
<rect x="471.1" y="116.2" width="11" height="3.4" rx="1.7" fill="#000" opacity="0.72" filter="url(#b1)"/>
<rect x="482.1" y="116.2" width="11" height="3.4" rx="1.7" fill="#000" opacity="0.78" filter="url(#b1)"/>
<rect x="469.1" y="139.3" width="26" height="5.8" rx="2.9" fill="#000" opacity="0.475" filter="url(#b3)"/>
<rect x="467.1" y="137.2" width="30" height="10" rx="5" fill="#000" opacity="0.16" filter="url(#b2)"/>
<rect x="502.3" y="77" width="25" height="20" rx="10" fill="#000" opacity="0.07" filter="url(#b2)"/>
<rect x="503.8" y="84.1" width="11" height="3.2" rx="1.6" fill="#000" opacity="0.287" filter="url(#b1)"/>
<rect x="514.8" y="84.1" width="11" height="3.2" rx="1.6" fill="#000" opacity="0.59" filter="url(#b1)"/>
<rect x="502.8" y="106" width="24" height="15" rx="7.5" fill="#000" opacity="0.12" filter="url(#b2)"/>
<rect x="504.8" y="109.1" width="20" height="3.4" rx="1.7" fill="#000" opacity="0.112" filter="url(#b3)"/>
<rect x="503.8" y="116.2" width="11" height="3.4" rx="1.7" fill="#000" opacity="0.22" filter="url(#b1)"/>
<rect x="514.8" y="116.2" width="11" height="3.4" rx="1.7" fill="#000" opacity="0.55" filter="url(#b1)"/>
<rect x="501.8" y="139.3" width="26" height="5.8" rx="2.9" fill="#000" opacity="0.561" filter="url(#b3)"/>
<rect x="499.8" y="137.2" width="30" height="10" rx="5" fill="#000" opacity="0.16" filter="url(#b2)"/>
</g>
<g clip-path="url(#cpR)">
<rect x="537.2" y="77" width="25" height="20" rx="10" fill="#000" opacity="0.07" filter="url(#b2)"/>
<rect x="538.7" y="85.2" width="11" height="3.2" rx="1.6" fill="#000" opacity="0.271" filter="url(#b1)"/>
<rect x="549.7" y="85.2" width="11" height="3.2" rx="1.6" fill="#000" opacity="0.344" filter="url(#b1)"/>
<rect x="537.7" y="106" width="24" height="15" rx="7.5" fill="#000" opacity="0.2" filter="url(#b2)"/>
<rect x="539.7" y="109.1" width="20" height="3.4" rx="1.7" fill="#000" opacity="0.336" filter="url(#b3)"/>
<rect x="538.7" y="116.2" width="11" height="3.4" rx="1.7" fill="#000" opacity="0.8" filter="url(#b1)"/>
<rect x="549.7" y="116.2" width="11" height="3.4" rx="1.7" fill="#000" opacity="0.88" filter="url(#b1)"/>
<rect x="536.7" y="139.9" width="26" height="5.8" rx="2.9" fill="#000" opacity="0.495" filter="url(#b3)"/>
<rect x="534.7" y="137.8" width="30" height="10" rx="5" fill="#000" opacity="0.16" filter="url(#b2)"/>
<rect x="568.3" y="77" width="25" height="20" rx="10" fill="#000" opacity="0.07" filter="url(#b2)"/>
<rect x="569.8" y="85.2" width="11" height="3.2" rx="1.6" fill="#000" opacity="0.451" filter="url(#b1)"/>
<rect x="580.8" y="85.2" width="11" height="3.2" rx="1.6" fill="#000" opacity="0.508" filter="url(#b1)"/>
<rect x="568.8" y="106" width="24" height="15" rx="7.5" fill="#000" opacity="0.13" filter="url(#b2)"/>
<rect x="570.8" y="109.1" width="20" height="3.4" rx="1.7" fill="#000" opacity="0.2" filter="url(#b3)"/>
<rect x="569.8" y="116.2" width="11" height="3.4" rx="1.7" fill="#000" opacity="0.6" filter="url(#b1)"/>
<rect x="580.8" y="116.2" width="11" height="3.4" rx="1.7" fill="#000" opacity="0.5" filter="url(#b1)"/>
<rect x="567.8" y="139.9" width="26" height="5.8" rx="2.9" fill="#000" opacity="0.495" filter="url(#b3)"/>
<rect x="565.8" y="137.8" width="30" height="10" rx="5" fill="#000" opacity="0.16" filter="url(#b2)"/>
<rect x="601" y="77" width="25" height="20" rx="10" fill="#000" opacity="0.07" filter="url(#b2)"/>
<rect x="602.5" y="85.2" width="11" height="3.2" rx="1.6" fill="#000" opacity="0.23" filter="url(#b1)"/>
<rect x="613.5" y="85.2" width="11" height="3.2" rx="1.6" fill="#000" opacity="0.295" filter="url(#b1)"/>
<rect x="601.5" y="106" width="24" height="15" rx="7.5" fill="#000" opacity="0.13" filter="url(#b2)"/>
<rect x="603.5" y="109.1" width="20" height="3.4" rx="1.7" fill="#000" opacity="0.2" filter="url(#b3)"/>
<rect x="602.5" y="116.2" width="11" height="3.4" rx="1.7" fill="#000" opacity="0.45" filter="url(#b1)"/>
<rect x="613.5" y="116.2" width="11" height="3.4" rx="1.7" fill="#000" opacity="0.55" filter="url(#b1)"/>
<rect x="600.5" y="140.1" width="26" height="5.8" rx="2.9" fill="#000" opacity="0.462" filter="url(#b3)"/>
<rect x="598.5" y="138" width="30" height="10" rx="5" fill="#000" opacity="0.16" filter="url(#b2)"/>
<rect x="630.5" y="77" width="25" height="20" rx="10" fill="#000" opacity="0.07" filter="url(#b2)"/>
<rect x="632" y="85.2" width="11" height="3.2" rx="1.6" fill="#000" opacity="0.295" filter="url(#b1)"/>
<rect x="643" y="85.2" width="11" height="3.2" rx="1.6" fill="#000" opacity="0.041" filter="url(#b1)"/>
<rect x="631" y="106" width="24" height="15" rx="7.5" fill="#000" opacity="0.12" filter="url(#b2)"/>
<rect x="633" y="109.1" width="20" height="3.4" rx="1.7" fill="#000" opacity="0.224" filter="url(#b3)"/>
<rect x="632" y="116.2" width="11" height="3.4" rx="1.7" fill="#000" opacity="0.5" filter="url(#b1)"/>
<rect x="643" y="116.2" width="11" height="3.4" rx="1.7" fill="#000" opacity="0.4" filter="url(#b1)"/>
<rect x="630" y="141.7" width="26" height="5.8" rx="2.9" fill="#000" opacity="0.561" filter="url(#b3)"/>
<rect x="628" y="139.6" width="30" height="10" rx="5" fill="#000" opacity="0.16" filter="url(#b2)"/>
</g>
<rect x="403.4" y="74.2" width="128.8" height="79.2" filter="url(#nz)" opacity="0.17"/>
<rect x="534.6" y="74.2" width="128.4" height="79.2" filter="url(#nz)" opacity="0.17"/>
<rect x="403" y="100.2" width="261" height="1.6" fill="#fff"/>
<rect x="403" y="126.8" width="261" height="1.4" fill="#fff"/>
</g>
</svg>
</body>
</html>
